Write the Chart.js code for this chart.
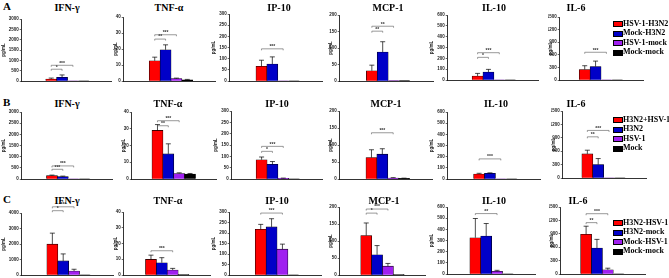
<!DOCTYPE html>
<html>
<head>
<meta charset="utf-8">
<script src="https://cdn.jsdelivr.net/npm/chart.js@4.4.1/dist/chart.umd.min.js"></script>
<style>
  body { margin: 0; background: #fff; }
  #fig { position: relative; width: 669px; height: 278px; overflow: hidden; font-family: "Liberation Serif", serif; }
  #fig canvas { position: absolute; }
  .ttl { position: absolute; font-weight: bold; font-size: 10px; transform: translate(-50%, -50%); white-space: nowrap; }
  .let { position: absolute; font-weight: bold; font-size: 11px; transform: translateY(-50%); }
  .lg { position: absolute; font-weight: bold; font-size: 8px; white-space: nowrap; line-height: 8px; transform: translateY(-50%); }
  .lg i { position: absolute; left: -10px; top: 1.5px; width: 8px; height: 4px; border: 0.7px solid #000; }
</style>
</head>
<body>
<div id="fig"></div>
<script>
// ---- data ----
const cytokines = ['IFN-γ', 'TNF-α', 'IP-10', 'MCP-1', 'IL-10', 'IL-6'];
const rowLetters = ['A', 'B', 'C'];
const groupsA = ['HSV-1-H3N2', 'Mock-H3N2', 'HSV-1-mock', 'Mock-mock'];
const groupsB = ['H3N2+HSV-1', 'H3N2', 'HSV-1', 'Mock'];
const groupsC = ['H3N2-HSV-1', 'H3N2-mock', 'Mock-HSV-1', 'Mock-mock'];
const barColors = ['#ff0000', '#0000c8', '#a020f0', '#000000'];

const yMaxA = [3000, 40, 300, 200, 600, 1500];
const yMaxB = [3000, 40, 300, 200, 600, 1500];
const yMaxC = [4000, 40, 300, 200, 600, 1500];
const yStepA = [500, 10, 50, 50, 100, 300];
const yStepB = [500, 10, 50, 50, 100, 300];
const yStepC = [1000, 10, 50, 50, 100, 300];

// means per cytokine (4 groups)
const meanA = [[97, 178, 8, 8], [12.6, 19.5, 1.5, 0.8], [66, 76, 1, 1], [31, 88, 1, 1], [37, 74, 2, 2], [250, 320, 5, 5]];
const sdA   = [[45, 115, 0, 0], [2.3, 3.1, 0.3, 0.2], [27, 32, 0, 0], [17, 31, 0, 0], [24, 24, 0, 0], [90, 130, 0, 0]];
const meanB = [[150, 105, 5, 5], [29, 15, 3.3, 3], [85, 65, 3, 1], [63, 73, 3, 2], [45, 51, 2, 2], [540, 300, 5, 5]];
const sdB   = [[25, 25, 0, 0], [3.5, 6, 0.4, 0.3], [12, 12, 1, 0], [23, 16, 1, 0.5], [6, 4, 0, 0], [82, 135, 0, 0]];
const meanC = [[1990, 910, 260, 5], [9.9, 7.8, 3.2, 0.2], [218, 229, 123, 1], [116, 59.5, 26, 1], [325, 340, 24, 2], [890, 580, 95, 5]];
const sdC   = [[710, 450, 110, 0], [2.7, 3.2, 1.0, 0], [23, 39, 24, 0], [37, 27, 8, 0], [172, 112, 9, 0], [180, 195, 35, 0]];

// significance brackets: [from group, to group, height, label]
const sigA = [[[0, 1, 570, '*'], [0, 2, 760, '***']], [[0, 1, 26.2, '**'], [0, 2, 28.9, '***']], [[0, 2, 144, '***']],
              [[0, 1, 151, '**'], [0, 2, 166, '**']], [[0, 1, 209, '*'], [0, 2, 252, '***']], [[0, 2, 660, '***']]];
const sigB = [[[0, 1, 435, '***'], [0, 2, 585, '***']], [[0, 1, 31.8, '**'], [0, 2, 34.8, '***']], [[0, 1, 122, '*'], [0, 2, 144, '***']],
              [[0, 2, 136, '***']], [[0, 2, 180, '***']], [[0, 1, 922, '**'], [0, 2, 1065, '***']]];
const sigC = [[[0, 1, 4150, '*'], [0, 2, 4400, '***']], [[0, 2, 15.4, '***']], [[0, 2, 295, '***']],
              [[0, 1, 182, '*'], [0, 2, 194, '***']], [[0, 2, 541, '**']], [[0, 1, 1150, '**'], [0, 2, 1350, '***']]];

// ---- layout (pixels) ----
const axisX  = [[22, 124, 230, 340, 448, 560], [22, 132, 232, 340, 448, 563], [22, 124, 230, 340, 448, 561]];
const firstX = [[36, 140, 247, 357.5, 462.5, 568], [37, 141, 246.5, 357, 464.5, 570.5], [37.5, 135, 246, 350, 459.5, 569.5]];
const plotTop = [[19, 17, 14, 15, 15, 17], [112, 112, 111, 111, 112, 111], [213, 212, 212, 207, 207, 207]];
const plotBot = [[81, 81, 81, 81, 80, 80], [179, 179, 179, 179, 179, 178], [275, 275, 275, 275, 274, 274]];
const titleX = [[67, 169, 279, 388, 494, 576], [67, 168, 277, 386, 496, 576], [67, 168, 277, 384, 494, 578]];
const titleY = [6.5, 103, 200];
const yTitleOff = [18, 8, 16, 9, 16, 9];
const legendY = [23.5, 119.5, 222.7];
const SP = 21.7, PAD_T = 12, PAD_B = 4;

const rows = [
  { groups: groupsA, mean: meanA, sd: sdA, sig: sigA, yMax: yMaxA, yStep: yStepA },
  { groups: groupsB, mean: meanB, sd: sdB, sig: sigB, yMax: yMaxB, yStep: yStepB },
  { groups: groupsC, mean: meanC, sd: sdC, sig: sigC, yMax: yMaxC, yStep: yStepC }
];

// error bars + brackets
const marks = {
  id: 'marks',
  afterDatasetsDraw(chart, args, opts) {
    const { ctx } = chart;
    const ys = chart.scales.y;
    const bars = chart.getDatasetMeta(0).data;
    ctx.save();
    ctx.strokeStyle = '#000';
    ctx.lineWidth = 0.7;
    bars.forEach((b, i) => {
      if (!opts.sd[i]) return;
      const top = ys.getPixelForValue(opts.mean[i] + opts.sd[i]);
      ctx.beginPath();
      ctx.moveTo(b.x, b.y); ctx.lineTo(b.x, top);
      ctx.moveTo(b.x - 2.5, top); ctx.lineTo(b.x + 2.5, top);
      ctx.stroke();
    });
    ctx.strokeStyle = '#555';
    ctx.fillStyle = '#333';
    ctx.lineWidth = 0.6;
    ctx.font = 'bold 5px "Liberation Sans"';
    ctx.textAlign = 'center';
    ctx.textBaseline = 'bottom';
    opts.sig.forEach(([a, b, v, lab]) => {
      const x1 = bars[a].x, x2 = bars[b].x, y = ys.getPixelForValue(v);
      ctx.beginPath();
      ctx.moveTo(x1, y + 1.5); ctx.lineTo(x1, y); ctx.lineTo(x2, y); ctx.lineTo(x2, y + 1.5);
      ctx.stroke();
      ctx.fillText(lab, (x1 + x2) / 2, y + 0.5);
    });
    ctx.restore();
  }
};

const fig = document.getElementById('fig');

rows.forEach((row, r) => {
  const let_ = document.createElement('div');
  let_.className = 'let';
  let_.textContent = rowLetters[r];
  let_.style.left = '3px';
  let_.style.top = (titleY[r] - 1) + 'px';
  fig.appendChild(let_);

  cytokines.forEach((name, c) => {
    const t = document.createElement('div');
    t.className = 'ttl';
    t.textContent = name;
    t.style.left = titleX[r][c] + 'px';
    t.style.top = titleY[r] + 'px';
    fig.appendChild(t);

    const yW = yTitleOff[c] + 2.7;
    const off = firstX[r][c] - axisX[r][c];
    const plotW = off + 3 * SP + 11;
    const plotH = plotBot[r][c] - plotTop[r][c];
    const cv = document.createElement('canvas');
    cv.width = Math.round(yW + plotW + 2);
    cv.height = Math.round(PAD_T + plotH + PAD_B);
    cv.style.left = (axisX[r][c] - yW) + 'px';
    cv.style.top = (plotTop[r][c] - PAD_T) + 'px';
    fig.appendChild(cv);

    new Chart(cv, {
      type: 'bar',
      data: {
        labels: row.groups,
        datasets: [{
          data: row.mean[c].map((v, i) => ({ x: i, y: v })),
          backgroundColor: barColors,
          borderColor: '#000',
          borderWidth: 0.6,
          barThickness: 11
        }]
      },
      options: {
        responsive: false,
        animation: false,
        devicePixelRatio: 1,
        layout: { padding: { top: PAD_T, bottom: PAD_B, left: 0, right: cv.width - yW - plotW } },
        scales: {
          x: {
            type: 'linear',
            min: -off / SP,
            max: 3 + 11 / SP,
            ticks: { display: false },
            grid: { display: false, drawTicks: false },
            border: { display: true, color: '#000', width: 0.8 }
          },
          y: {
            min: 0,
            max: row.yMax[c],
            afterFit(s) { s.width = yW; },
            ticks: {
              stepSize: row.yStep[c],
              padding: 1,
              color: '#222',
              font: { family: 'Liberation Sans', size: 4.5, weight: 'bold' },
              callback: v => String(v)
            },
            grid: { drawOnChartArea: false, drawTicks: true, tickLength: 2, color: '#000', lineWidth: 0.6 },
            border: { display: true, color: '#000', width: 0.8 },
            title: {
              display: true, text: 'pg/mL', padding: 0, color: '#222',
              font: { family: 'Liberation Sans', size: 4.5, weight: 'bold' }
            }
          }
        },
        plugins: {
          legend: { display: false },
          tooltip: { enabled: false },
          marks: { mean: row.mean[c], sd: row.sd[c], sig: row.sig[c] }
        }
      },
      plugins: [marks]
    });
  });

  row.groups.forEach((g, i) => {
    const d = document.createElement('div');
    d.className = 'lg';
    d.style.left = '623px';
    d.style.top = (legendY[r] + i * 9.5) + 'px';
    d.innerHTML = '<i style="background:' + barColors[i] + '"></i>' + g;
    fig.appendChild(d);
  });
});
</script>
</body>
</html>
